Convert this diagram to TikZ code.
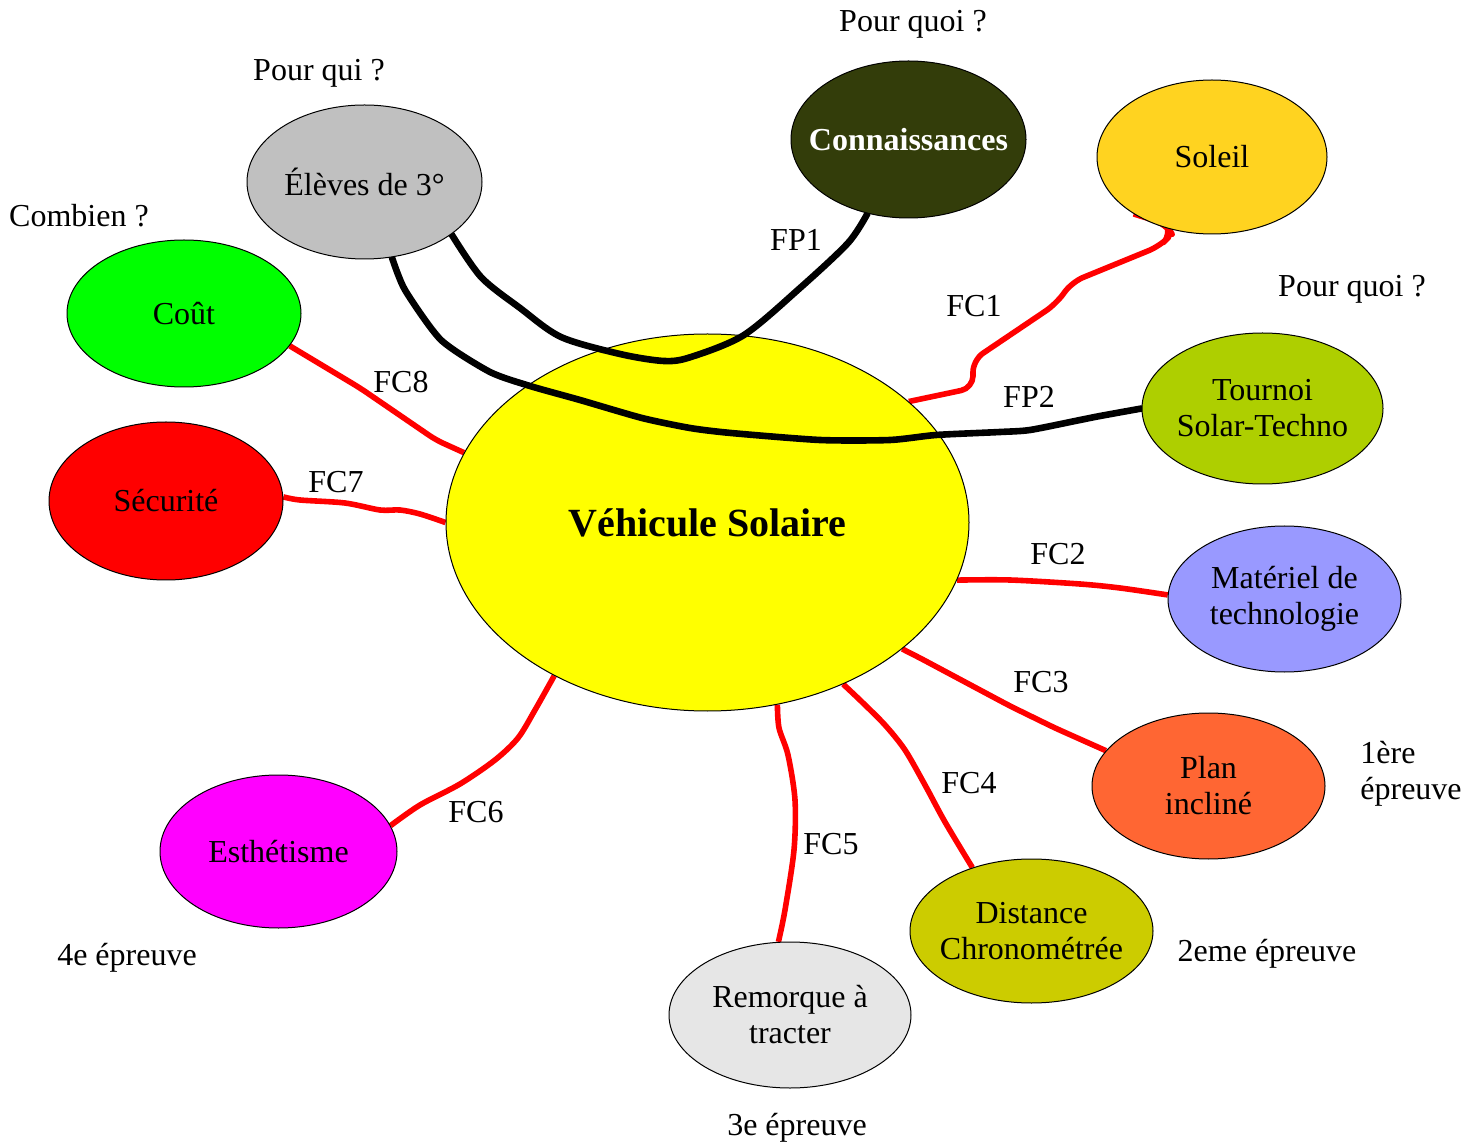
\documentclass[tikz,border=0pt]{standalone}
\usepackage{fontspec}
\setmainfont{Liberation Serif}
\usetikzlibrary{shapes.geometric}
\pgfdeclarelayer{redl}
\pgfdeclarelayer{centl}
\pgfdeclarelayer{blackl}
\pgfsetlayers{redl,centl,blackl,main}
\definecolor{cYellow}{HTML}{FFFF00}
\definecolor{cGray}{HTML}{C0C0C0}
\definecolor{cOlive}{RGB}{51,61,10}
\definecolor{cGold}{HTML}{FFD320}
\definecolor{cLime}{HTML}{AECF00}
\definecolor{cLav}{HTML}{9999FF}
\definecolor{cOrange}{HTML}{FF6633}
\definecolor{cMustard}{HTML}{CCCC00}
\definecolor{cLight}{HTML}{E6E6E6}
\definecolor{cMagenta}{HTML}{FF00FF}
\definecolor{cRed}{HTML}{FF0000}
\definecolor{cGreen}{HTML}{00FF00}
\begin{document}
\begin{tikzpicture}[x=0.5pt,y=-0.5pt,
  bub/.style={ellipse, draw=black, line width=0.5pt, inner sep=0pt, align=center,
    font=\fontsize{16}{18}\selectfont},
  redline/.style={draw=red, line width=2.8pt, line join=round},
  blackline/.style={draw=black, line width=3.3pt, line join=round, line cap=round},
  lbl/.style={font=\fontsize{16}{18}\selectfont, inner sep=0pt, yshift=-1.25pt}]
\useasboundingbox (0,0) rectangle (1479,1144);

% central node
\begin{pgfonlayer}{centl}
\node[bub, fill=cYellow, minimum width=261.5pt, minimum height=188.5pt,
  font=\bfseries\fontsize{20}{24}\selectfont] (veh) at (707.5,522.5) {Véhicule Solaire};
\end{pgfonlayer}

% outer nodes
\node[bub, fill=cGray, minimum width=117.5pt, minimum height=77pt] (eleves) at (364.5,182) {Élèves de 3°};
\node[bub, fill=cOlive, text=white, minimum width=117.5pt, minimum height=78.5pt,
  font=\bfseries\fontsize{16}{18}\selectfont] (conn) at (908.5,139.5) {\makebox[0pt]{Connaissances}};
\node[bub, fill=cGold, minimum width=115pt, minimum height=77pt] (soleil) at (1212,157) {Soleil};
\node[bub, fill=cLime, minimum width=120.5pt, minimum height=75.5pt] (tournoi) at (1262.5,408.5) {Tournoi\\\makebox[0pt]{Solar-Techno}};
\node[bub, fill=cLav, minimum width=116.5pt, minimum height=73pt] (mat) at (1284.5,599) {Matériel de\\technologie};
\node[bub, fill=cOrange, minimum width=116.5pt, minimum height=73pt] (plan) at (1208.5,786) {Plan\\incliné};
\node[bub, fill=cMustard, minimum width=121.5pt, minimum height=72pt] (dist) at (1031.5,931) {Distance\\\makebox[0pt]{Chronométrée}};
\node[bub, fill=cLight, minimum width=121pt, minimum height=73pt] (rem) at (790,1015) {Remorque à\\tracter};
\node[bub, fill=cMagenta, minimum width=118.5pt, minimum height=76.5pt] (esth) at (278.5,851.5) {Esthétisme};
\node[bub, fill=cRed, minimum width=117pt, minimum height=79pt] (secu) at (166,501) {Sécurité};
\node[bub, fill=cGreen, minimum width=117pt, minimum height=73.5pt] (cout) at (184,313.5) {Coût};

% free texts
\node[lbl] (q1) at (913,22) {Pour quoi ?};
\node[lbl] (q2) at (319,71) {Pour qui ?};
\node[lbl] (q3) at (79,213) {Combien ?};
\node[lbl] (q4) at (1352,287) {Pour quoi ?};
\node[lbl, anchor=west, align=left] (e1) at (1360,771) {1ère\\épreuve};
\node[lbl] (e2) at (1267,951) {2eme épreuve};
\node[lbl] (e3) at (797,1125) {3e épreuve};
\node[lbl] (e4) at (127,955) {4e épreuve};

% connector labels
\node[lbl] (lfp1) at (796,237) {FP1};
\node[lbl] (lfc1) at (974,304) {FC1};
\node[lbl] (lfp2) at (1029,394) {FP2};
\node[lbl] (lfc8) at (401,380) {FC8};
\node[lbl] (lfc7) at (336,480) {FC7};
\node[lbl] (lfc2) at (1058,552) {FC2};
\node[lbl] (lfc3) at (1041,680) {FC3};
\node[lbl] (lfc4) at (969,781) {FC4};
\node[lbl] (lfc5) at (831,842) {FC5};
\node[lbl] (lfc6) at (476,810) {FC6};

% red connectors
\begin{pgfonlayer}{redl}
\draw[redline, rounded corners=4pt] (cout.-17) -- (360,388) -- (436,440) -- (veh.164);
\draw[redline] plot[smooth, tension=0.5] coordinates {(secu.2) (300,500) (345,503) (380,510) (400,510) (420,514) (veh.180)};
\draw[redline] plot[smooth, tension=0.5] coordinates {(veh.225) (535,710) (518,738) (495,760) (460,784) (420,805) (esth.13)};
\draw[redline] plot[smooth, tension=0.5] coordinates {(veh.-69) (779,728) (788,755) (795,800) (794,850) (785,910) (rem.99)};
\draw[redline] plot[smooth, tension=0.5] coordinates {(veh.-50) (862,702) (885,725) (905,750) (925,785) (945,822) (dist.133)};
\draw[redline, rounded corners=4pt] (veh.-33) -- (920,658) -- (965,682) -- (1010,706) -- (1055,728) -- (plan.161);
\draw[redline] plot[smooth, tension=0.5] coordinates {(veh.-13) (1010,580) (1080,584) (1120,588) (mat.178)};
\draw[redline, rounded corners=6pt] (veh.31) -- (973,388) -- (973,360) -- (1056,304) -- (1072,282) -- (1160,246) -- (1172,234) -- (1166,224) -- (soleil.-144);
\end{pgfonlayer}

% black connectors
\begin{pgfonlayer}{blackl}
\draw[blackline] plot[smooth, tension=0.5] coordinates {(conn.-119) (848,243) (800,288) (744,335) (691,357) (664,361) (620,354) (561,337) (520,308) (481,277) (eleves.-31)};
\draw[blackline] plot[smooth, tension=0.4] coordinates {(eleves.-70) (405,290) (441,340) (490,372) (530,386) (580,400) (642,418) (690,428) (731,433) (820,440) (890,440) (936,435) (1000,432) (1030,430) (1080,420) (1100,416) (tournoi.180)};
\end{pgfonlayer}
\end{tikzpicture}
\end{document}
